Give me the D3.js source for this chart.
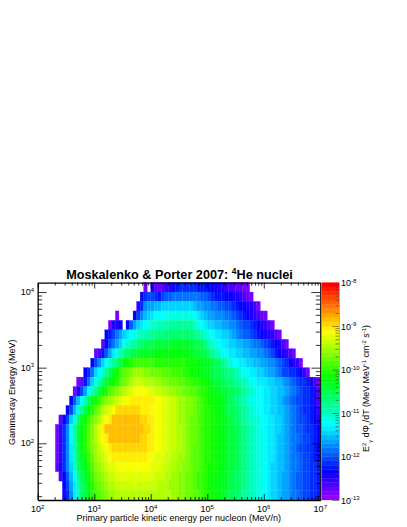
<!DOCTYPE html>
<html><head><meta charset="utf-8">
<script src="https://cdn.jsdelivr.net/npm/d3@7/dist/d3.min.js"></script>
<style>html,body{margin:0;padding:0;background:#fff}svg{display:block}text{font-family:"Liberation Sans",Arial,sans-serif;fill:#000}</style>
</head><body><svg id="c" width="407" height="527"></svg>
<script>
// Colour level per bin (0..49 = 0.1 decade steps above 1e-13); -1 = empty. Rows run top to bottom.
const titleText = ["Moskalenko & Porter 2007: ", "4", "He nuclei"];
const xLabel = "Primary particle kinetic energy per nucleon (MeV/n)";
const yLabel = "Gamma-ray Energy (MeV)";
const xExponents = [2,3,4,5,6,7];
const yExponents = [2,3,4];
const zExponents = [-13,-12,-11,-10,-9,-8];
const rowStarts = [30,29,28,22,20,19,18,16,15,13,11,10,9,8,6,5,5,5,5,5,6,7,7];
const row00=[1,-1,5,2,2,3,4,5,5,7,8,8,8,8,8,7,7,7,6,6,6,5,5,4,3,3,2,2,1,1];
const row01=[6,8,9,9,8,7,9,10,10,11,11,11,11,11,11,11,11,10,10,9,8,7,7,7,6,6,5,5,4,3,2,1];
const row02=[4,8,12,13,13,14,14,15,15,15,15,15,15,15,15,15,14,13,13,12,12,11,11,10,10,9,9,8,7,6,6,5,5,3,1];
const row03=[1,-1,-1,-1,-1,6,9,12,14,15,16,17,17,17,17,18,18,18,18,18,18,18,17,16,15,14,13,13,12,12,12,11,11,10,9,8,7,6,5,4,3,2,1];
const row04=[1,5,5,6,-1,6,10,13,15,16,17,18,19,19,20,20,20,21,21,21,21,21,21,21,19,18,17,16,15,15,14,14,13,13,12,12,11,10,9,9,8,7,6,5,4,3,1];
const row05=[6,7,9,11,13,15,16,17,18,19,20,20,21,21,22,22,22,23,23,23,23,23,23,23,22,22,21,20,19,18,17,16,16,15,15,14,13,12,11,10,10,9,8,7,6,5,5,4,3,1];
const row06=[2,6,9,11,13,15,17,19,20,21,22,23,24,24,24,25,25,25,25,25,26,26,26,26,26,25,25,24,24,22,20,19,18,17,16,16,15,15,14,14,13,13,12,11,11,10,9,8,7,6,5,3,1];
const row07=[2,3,7,10,13,16,18,20,22,23,24,25,25,26,26,26,26,27,27,27,27,27,27,27,27,27,27,26,26,25,25,24,23,21,20,19,17,17,16,16,15,15,14,14,13,13,12,12,11,10,9,7,6,5,4,3,1];
const row08=[6,9,12,15,17,19,21,23,25,27,28,29,30,30,30,30,30,30,29,29,29,29,29,29,29,29,29,28,28,28,27,27,26,26,25,24,23,22,20,19,17,17,16,16,15,15,14,14,13,13,12,12,11,10,9,8,6,5,4,1];
const row09=[6,8,11,15,17,19,21,24,26,28,30,31,32,33,34,34,34,33,33,32,32,32,31,31,31,30,30,30,29,29,28,28,27,27,26,26,25,24,24,23,22,22,21,20,18,17,17,16,16,15,15,14,13,13,12,11,9,9,8,8,7,6,4,1];
const row10=[1,2,7,11,15,18,20,23,25,27,28,29,31,32,33,35,36,36,36,35,35,35,34,34,33,33,32,32,32,31,31,30,30,29,29,28,28,27,26,25,25,24,23,23,22,21,20,20,19,17,17,16,16,16,15,15,14,14,13,12,11,10,9,8,8,7,5,3,1];
const row11=[1,5,9,13,17,19,22,25,27,29,31,32,33,34,35,36,37,38,38,38,38,37,37,36,36,35,35,34,34,33,33,32,32,31,31,30,29,29,28,27,27,26,25,25,24,24,23,22,21,20,19,18,17,17,16,16,15,15,14,14,13,12,11,10,9,8,8,7,5,3];
const row12=[6,10,14,17,20,24,26,28,30,32,33,34,35,36,37,38,38,39,39,39,39,39,39,39,38,38,37,37,36,36,35,34,34,33,33,32,31,30,29,28,28,27,27,26,25,24,23,22,21,20,19,18,18,17,17,16,16,15,15,14,13,12,11,10,9,9,8,8,7,5,3];
const row13=[6,9,14,18,21,25,27,29,31,33,35,36,37,38,40,40,40,40,40,40,40,39,39,39,38,38,38,37,37,36,36,35,34,34,33,33,32,31,30,29,29,28,28,27,26,25,24,24,23,22,21,20,19,18,17,17,16,16,15,15,14,14,13,12,11,10,9,8,8,7,6,4];
const row14=[2,6,9,15,18,22,26,28,30,32,33,35,37,38,39,41,41,41,41,41,41,41,41,40,40,39,39,38,38,37,37,36,36,35,34,34,33,32,32,31,30,29,29,28,28,27,26,26,25,24,23,22,21,20,19,19,18,17,17,16,16,15,15,14,13,12,11,10,9,9,8,7,6,5];
const row15=[1,4,8,12,17,20,25,27,29,31,33,35,37,39,41,41,41,41,41,41,41,41,41,41,41,40,40,39,38,38,37,37,36,36,35,35,34,33,32,32,31,30,29,29,28,28,27,27,26,25,25,24,23,22,21,20,19,18,17,17,16,16,15,15,14,13,12,11,10,10,9,8,8,7,6];
const row16=[1,4,8,12,17,20,25,27,29,31,33,35,37,38,39,41,41,41,41,41,41,41,41,41,40,40,39,39,38,38,37,37,36,36,35,35,34,33,32,32,31,30,29,29,28,28,27,27,26,25,25,24,23,22,21,20,19,18,18,17,16,16,15,14,14,13,12,11,11,10,9,9,8,7,6];
const row17=[1,4,8,12,16,20,24,27,29,31,33,34,36,37,38,39,40,40,40,40,40,40,40,40,40,40,39,39,38,38,37,37,36,36,35,35,34,33,32,31,31,30,29,29,28,28,27,27,26,25,25,24,23,22,21,20,19,18,18,17,16,16,15,14,14,13,12,11,10,9,9,8,8,7,6];
const row18=[1,4,8,12,16,19,24,26,28,30,32,34,35,36,37,38,39,39,39,39,39,39,39,39,39,39,38,38,37,37,37,36,36,35,35,34,34,33,32,31,31,30,29,29,28,28,27,27,26,25,25,24,23,22,21,20,19,18,18,17,16,16,15,14,14,13,12,11,11,10,9,9,8,7,6];
const row19=[2,5,8,12,15,19,23,25,27,29,31,33,34,35,36,37,37,38,38,38,38,38,38,38,38,38,38,37,37,37,36,36,35,35,34,34,33,33,32,31,31,30,29,28,28,28,27,27,26,25,25,24,23,22,21,20,19,18,18,17,16,15,15,14,14,13,12,11,11,10,9,9,8,8,7];
const row20=[3,6,10,14,17,21,24,26,28,30,32,33,34,35,36,36,37,37,37,37,37,37,37,37,37,37,37,36,36,36,35,35,34,34,33,33,32,32,31,30,30,29,28,28,27,27,26,26,25,24,23,23,22,21,20,19,18,18,17,16,15,15,14,13,13,12,11,10,10,9,9,8,8,7];
const row21=[6,9,13,16,20,23,25,27,29,31,32,33,34,35,35,36,36,36,36,36,37,36,36,36,36,36,36,35,35,35,34,34,34,33,33,32,32,31,30,30,29,28,28,27,27,26,26,25,24,24,23,22,21,20,19,18,18,17,16,15,15,14,13,13,12,11,10,10,9,9,8,8,7];
const row22=[5,8,12,16,19,23,25,27,29,30,31,32,33,34,34,35,35,35,35,35,35,35,35,35,35,35,35,35,35,35,35,34,34,33,33,32,32,31,31,30,29,28,28,27,27,26,25,24,24,23,22,21,21,20,19,18,18,17,16,15,15,14,13,13,12,11,11,10,9,9,8,8,7];
const rows=[row00,row01,row02,row03,row04,row05,row06,row07,row08,row09,row10,row11,row12,row13,row14,row15,row16,row17,row18,row19,row20,row21,row22];

const binsPerDecadeX=16, binsPerDecadeY=8;
const svg=d3.select("#c");
const L=37.7,R=320.3,T=282.6,B=500;
const x=d3.scaleLog().domain([1e2,1e7]).range([L,R]);
const yMin=Math.pow(10,1.25), yMax=Math.pow(10,4.125);
const y=d3.scaleLog().domain([yMin,yMax]).range([B,T]);
const palette=d3.range(50).map(i=>d3.hsl(280-(i+1)*5.6,1,.5).formatHex());
const color=d3.scaleQuantize().domain([0,50]).range(palette);

// heat-map bins
const cells=[];
rows.forEach((r,ri)=>r.forEach((v,k)=>{ if(v>=0) cells.push({ri,c:rowStarts[ri]+k,v}); }));
const xEdge=c=>x(Math.pow(10,2+c/binsPerDecadeX));
const yEdge=ri=>y(Math.pow(10,4.125-ri/binsPerDecadeY));
svg.append("g").selectAll("rect").data(cells).join("rect")
 .attr("x",d=>xEdge(d.c)).attr("width",d=>xEdge(d.c+1)-xEdge(d.c))
 .attr("y",d=>yEdge(d.ri)).attr("height",d=>yEdge(d.ri+1)-yEdge(d.ri))
 .attr("fill",d=>color(d.v+.5)).attr("stroke",d=>color(d.v+.5)).attr("stroke-width",.3);

// log ticks helper
function logTicks(scale,lo,hi){
 const out=[];const d=scale.domain();const a=Math.min(d[0],d[1]),b=Math.max(d[0],d[1]);
 for(let e=lo;e<=hi;e++)for(let m=1;m<10;m++){const v=m*Math.pow(10,e);if(v>=a*0.999&&v<=b*1.001)out.push({v,major:m===1});}
 return out;
}
function drawAxis(gen,scale,lo,hi,tx,ty,majorLen,minorLen){
 const t=logTicks(scale,lo,hi);
 const g=svg.append("g").attr("transform",`translate(${tx},${ty})`);
 g.call(gen(scale).tickValues(t.filter(d=>d.major).map(d=>d.v)).tickFormat("").tickSize(majorLen).tickSizeOuter(0));
 const m=svg.append("g").attr("transform",`translate(${tx},${ty})`);
 m.call(gen(scale).tickValues(t.filter(d=>!d.major).map(d=>d.v)).tickFormat("").tickSize(minorLen).tickSizeOuter(0));
 m.select(".domain").remove();
 g.select(".domain").attr("stroke-width",1.3).attr("stroke","#000");
 svg.selectAll("g .tick line").attr("stroke","#000").attr("stroke-width",.8);
}
// axes: ticks point into the plot
drawAxis(d3.axisTop,x,2,6,0,B,6,3);
drawAxis(d3.axisBottom,x,2,6,0,T,6,3);
drawAxis(d3.axisRight,y,1,4,L,0,9,4.5);
drawAxis(d3.axisLeft,y,1,4,R,0,9,4.5);

// colour bar
const z=d3.scaleLog().domain([1e-13,1e-8]).range([B,T]);
const barL=322,barR=339;
svg.append("g").selectAll("rect").data(palette).join("rect")
 .attr("x",barL).attr("width",barR-barL)
 .attr("y",(d,i)=>z(Math.pow(10,-13+(i+1)/10))).attr("height",(d,i)=>z(Math.pow(10,-13+i/10))-z(Math.pow(10,-13+(i+1)/10)))
 .attr("fill",d=>d).attr("stroke",d=>d).attr("stroke-width",.3);
const zt=logTicks(z,-13,-9);
const zg=svg.append("g").attr("transform",`translate(${barR},0)`);
zg.call(d3.axisLeft(z).tickValues(zt.filter(d=>d.major).map(d=>d.v)).tickFormat("").tickSize(7).tickSizeOuter(0));
zg.select(".domain").attr("stroke","#888").attr("stroke-width",.6);
const zm=svg.append("g").attr("transform",`translate(${barR},0)`);
zm.call(d3.axisLeft(z).tickValues(zt.filter(d=>!d.major).map(d=>d.v)).tickFormat("").tickSize(3.5).tickSizeOuter(0));
zm.select(".domain").remove();
zg.selectAll("line").attr("stroke","#444").attr("stroke-width",.6);
zm.selectAll("line").attr("stroke","#444").attr("stroke-width",.6);

// tick labels
function powLabel(px,py,e,anchor){
 const t=svg.append("text").attr("x",px).attr("y",py).attr("font-size",9).attr("text-anchor",anchor);
 t.append("tspan").text("10");
 t.append("tspan").attr("dy",-3.4).attr("font-size",6).text(e);
}
xExponents.forEach(e=>powLabel(x(Math.pow(10,e)),512,e,"middle"));
yExponents.forEach(e=>powLabel(34,y(Math.pow(10,e))+3,e,"end"));
zExponents.forEach(e=>powLabel(341,z(Math.pow(10,e))+3.5,e,"start"));

// titles
const title=svg.append("text").attr("x",179.5).attr("y",279).attr("text-anchor","middle").attr("font-size",12.7).attr("font-weight","bold");
title.append("tspan").text(titleText[0]);
title.append("tspan").attr("dy",-5).attr("font-size",8.3).text(titleText[1]);
title.append("tspan").attr("dy",5).text(titleText[2]);
svg.append("text").attr("x",281).attr("y",520.6).attr("text-anchor","end").attr("font-size",9).text(xLabel);
svg.append("text").attr("transform","translate(15,445) rotate(-90)").attr("font-size",9).text(yLabel);
const zl=svg.append("text").attr("transform","translate(369,452) rotate(-90)").attr("font-size",8.9);
const seg=(s,dy,fs)=>{const t=zl.append("tspan").text(s);if(dy)t.attr("dy",dy);if(fs)t.attr("font-size",fs);};
seg("E");seg("2",-3,6);seg("γ",5.5,6);seg(" dΦ",-2.5);seg("γ",2.5,6);seg("/dT (MeV MeV",-2.5);seg("-1",-3,6);seg(" cm",3);seg("-2",-3,6);seg(" s",3);seg("-1",-3,6);seg(")",3);
</script></body></html>
